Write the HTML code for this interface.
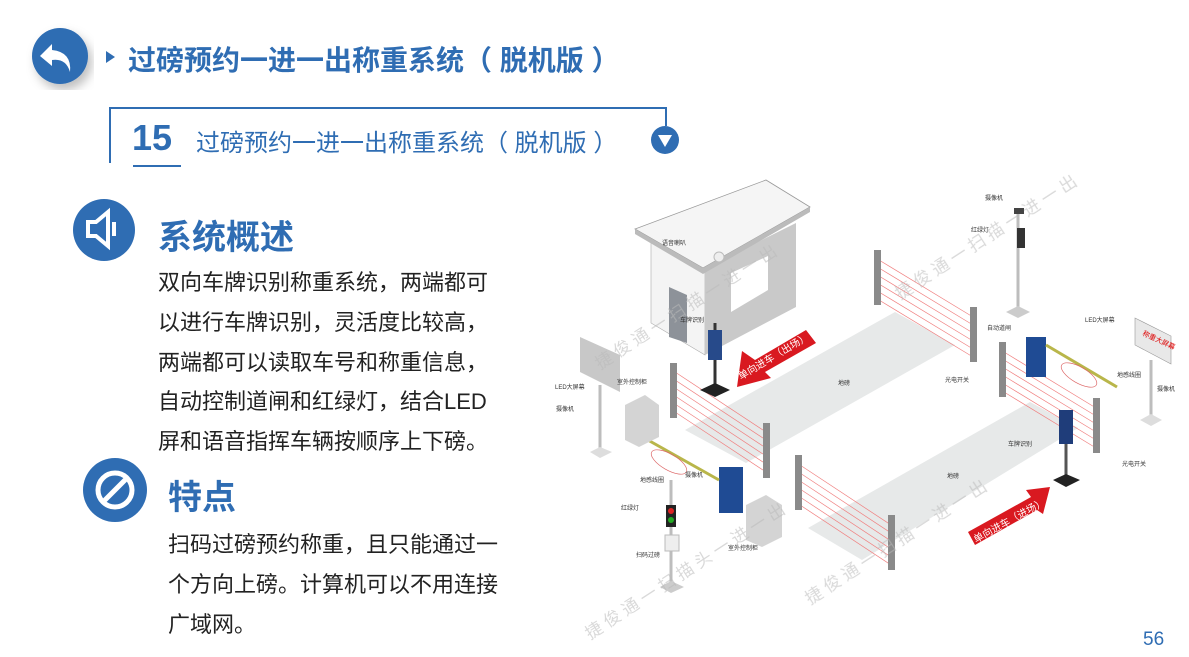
<!DOCTYPE html>
<html><head><meta charset="utf-8"><style>
body{margin:0;width:1189px;height:657px;background:#fff;position:relative;overflow:hidden;font-family:"Liberation Sans","Noto Sans CJK SC",sans-serif}
.a{position:absolute;white-space:nowrap}
.blue{color:#2f6db3}
.p{font-size:22px;line-height:39.8px;color:#222}
</style></head><body>
<svg class="a" style="left:0;top:0" width="1189" height="657">
<defs><filter id="sh"><feDropShadow dx="4" dy="6" stdDeviation="5" flood-color="#000" flood-opacity=".25"/></filter></defs>
<circle cx="60" cy="56" r="28" fill="#2f6db3" filter="url(#sh)"/>
<path d="M52 44 L40 56 L52 66 L52 60 Q66 58 70 72 Q72 52 52 50 Z" fill="#fff"/>
<path d="M106 51 L115 57 L106 63Z" fill="#2f6db3"/>
<path d="M110 163 V108 H666 V126" fill="none" stroke="#2f6db3" stroke-width="2"/>
<line x1="133" y1="166" x2="181" y2="166" stroke="#2f6db3" stroke-width="2"/>
<circle cx="665" cy="140" r="14" fill="#2f6db3"/>
<path d="M658 135 H672 L665 147Z" fill="#fff"/>
<circle cx="104" cy="230" r="31" fill="#2f6db3"/>
<path d="M88 222 H96 L108 212 V246 L96 236 H88Z" fill="none" stroke="#fff" stroke-width="4"/>
<rect x="112" y="222" width="4" height="14" fill="#fff"/>
<circle cx="115" cy="490" r="32" fill="#2f6db3"/>
<circle cx="115" cy="490" r="17" fill="none" stroke="#fff" stroke-width="5"/>
<line x1="104" y1="501" x2="126" y2="479" stroke="#fff" stroke-width="5"/>
<polygon points="685,430 895,312 955,345 746,463" fill="#e7e9e9"/>
<polygon points="808,528 1030,402 1078,428 862,560" fill="#e7e9e9"/>
<polygon points="651,238 705,268 705,355 651,323" fill="#f4f4f4" stroke="#aaa" stroke-width=".6"/>
<polygon points="705,268 796,223 796,307 705,355" fill="#c9c9c9"/>
<polygon points="635,229 766,180 810,207 703,268" fill="#f5f5f5" stroke="#999" stroke-width=".8"/>
<polygon points="635,229 703,268 810,207 810,212 703,274 635,234" fill="#bbb"/>
<polygon points="731,273 768,256 768,290 731,312" fill="#fff"/>
<polygon points="669,287 687,295 687,343 669,337" fill="#8d9299"/>
<circle cx="719" cy="257" r="5" fill="#eee" stroke="#bbb"/>
<g stroke="#f08080" stroke-width=".7">
<line x1="675" y1="372" x2="766" y2="432"/><line x1="675" y1="380" x2="766" y2="440"/><line x1="675" y1="388" x2="766" y2="448"/><line x1="675" y1="396" x2="766" y2="456"/><line x1="675" y1="404" x2="766" y2="464"/><line x1="675" y1="412" x2="766" y2="472"/>
<line x1="879" y1="260" x2="973" y2="317"/><line x1="879" y1="268" x2="973" y2="325"/><line x1="879" y1="276" x2="973" y2="333"/><line x1="879" y1="284" x2="973" y2="341"/><line x1="879" y1="292" x2="973" y2="349"/><line x1="879" y1="300" x2="973" y2="357"/>
<line x1="1004" y1="352" x2="1096" y2="408"/><line x1="1004" y1="360" x2="1096" y2="416"/><line x1="1004" y1="368" x2="1096" y2="424"/><line x1="1004" y1="376" x2="1096" y2="432"/><line x1="1004" y1="384" x2="1096" y2="440"/><line x1="1004" y1="392" x2="1096" y2="448"/>
<line x1="800" y1="465" x2="891" y2="525"/><line x1="800" y1="473" x2="891" y2="533"/><line x1="800" y1="481" x2="891" y2="541"/><line x1="800" y1="489" x2="891" y2="549"/><line x1="800" y1="497" x2="891" y2="557"/><line x1="800" y1="505" x2="891" y2="565"/>
</g>
<g fill="#8a8a8a">
<rect x="670" y="363" width="7" height="55"/><rect x="763" y="423" width="7" height="55"/>
<rect x="874" y="250" width="7" height="55"/><rect x="970" y="307" width="7" height="55"/>
<rect x="999" y="342" width="7" height="55"/><rect x="1093" y="398" width="7" height="55"/>
<rect x="795" y="455" width="7" height="55"/><rect x="888" y="515" width="7" height="55"/>
</g>
<g stroke="#bdbdbd" stroke-width="3">
<line x1="600" y1="385" x2="600" y2="452"/><line x1="1151" y1="360" x2="1151" y2="420"/>
<line x1="1018" y1="210" x2="1018" y2="312"/><line x1="671" y1="480" x2="671" y2="585"/>
</g>
<polygon points="590,452 600,447 612,452 600,458" fill="#ddd"/>
<polygon points="1140,420 1151,414 1162,420 1151,426" fill="#ddd"/>
<polygon points="1006,312 1018,306 1030,312 1018,318" fill="#ccc"/>
<polygon points="660,587 671,581 684,587 671,593" fill="#ccc"/>
<line x1="715" y1="323" x2="715" y2="388" stroke="#333" stroke-width="3"/>
<polygon points="700,390 715,383 730,390 715,397" fill="#222"/>
<line x1="1066" y1="410" x2="1066" y2="478" stroke="#555" stroke-width="3"/>
<polygon points="1053,480 1066,474 1080,480 1066,487" fill="#222"/>
<rect x="708" y="330" width="14" height="30" fill="#274a8a"/>
<rect x="1059" y="410" width="14" height="34" fill="#1f3d7a"/>
<rect x="1014" y="208" width="10" height="6" fill="#444"/>
<rect x="1017" y="228" width="8" height="20" fill="#333"/>
<polygon points="580,337 620,355 620,392 580,372" fill="#c8c8c8"/>
<polygon points="1135,318 1171,336 1171,364 1135,345" fill="#e8e8e8" stroke="#999" stroke-width=".6"/>
<text x="1142" y="335" font-size="7" fill="#d00" transform="rotate(25 1142 335)">称重大屏幕</text>
<rect x="1026" y="337" width="20" height="40" fill="#1f4b94"/>
<line x1="1046" y1="345" x2="1117" y2="387" stroke="#b9b64a" stroke-width="3"/>
<rect x="719" y="467" width="24" height="46" fill="#1f4b94"/>
<line x1="719" y1="480" x2="639" y2="435" stroke="#b9b64a" stroke-width="3"/>
<ellipse cx="1079" cy="375" rx="20" ry="8" fill="none" stroke="#d66" stroke-width=".7" transform="rotate(30 1079 375)"/>
<ellipse cx="669" cy="462" rx="20" ry="8" fill="none" stroke="#d66" stroke-width=".7" transform="rotate(30 669 462)"/>
<polygon points="625,405 645,395 659,405 659,437 639,447 625,440" fill="#d4d4d4"/>
<polygon points="746,505 766,495 782,505 782,537 762,547 746,540" fill="#d4d4d4"/>
<rect x="666" y="505" width="10" height="22" fill="#222"/><circle cx="671" cy="511" r="3" fill="#d22"/><circle cx="671" cy="520" r="3" fill="#2a2"/>
<rect x="665" y="535" width="14" height="16" fill="#eee" stroke="#bbb"/>
<polygon points="737,387 742,351 755,360 806,330 816,343 765,372 771,378" fill="#d91920"/>
<text x="741" y="380" font-size="10" fill="#fff" transform="rotate(-31 741 380)">单向进车（出场）</text>
<polygon points="1050,487 1026,490 1031,497 968,532 975,545 1037,510 1043,514" fill="#d91920"/>
<text x="976" y="543" font-size="10" fill="#fff" transform="rotate(-29 976 543)">单向进车（进场）</text>
<g font-size="6" fill="#333">
<text x="662" y="245">语音喇叭</text><text x="680" y="322">车牌识别</text>
<text x="555" y="389">LED大屏幕</text><text x="556" y="411">摄像机</text><text x="617" y="384">室外控制柜</text>
<text x="945" y="382">光电开关</text><text x="838" y="385">地磅</text><text x="947" y="478">地磅</text>
<text x="985" y="200">摄像机</text><text x="971" y="232">红绿灯</text><text x="987" y="330">自动道闸</text>
<text x="1085" y="322">LED大屏幕</text><text x="1117" y="377">地感线圈</text><text x="1157" y="391">摄像机</text>
<text x="1008" y="446">车牌识别</text><text x="1122" y="466">光电开关</text>
<text x="640" y="482">地感线圈</text><text x="685" y="477">摄像机</text><text x="621" y="510">红绿灯</text>
<text x="636" y="557">扫码过磅</text><text x="728" y="550">室外控制柜</text>
</g>
<g font-size="17" fill="#bbb" opacity=".55">
<text x="590" y="640" transform="rotate(-33 590 640)">捷 俊 通 一 扫 描 头 一 进 一 出</text>
<text x="600" y="370" transform="rotate(-33 600 370)">捷 俊 通 一 扫 描 一 进 一 出</text>
<text x="810" y="605" transform="rotate(-33 810 605)">捷 俊 通 一 扫 描 一 进 一 出</text>
<text x="900" y="300" transform="rotate(-33 900 300)">捷 俊 通 一 扫 描 一 进 一 出</text>
</g>
</svg>
<div class="a blue" style="left:128px;top:39px;font-size:28px;font-weight:bold">过磅预约一进一出称重系统（ 脱机版 ）</div>
<div class="a blue" style="left:132px;top:117px;font-size:36px;font-weight:bold">15</div>
<div class="a blue" style="left:196px;top:123px;font-size:24px">过磅预约一进一出称重系统（ 脱机版 ）</div>
<div class="a blue" style="left:158px;top:210px;font-size:34px;font-weight:bold">系统概述</div>
<div class="a p" style="left:158px;top:263px">双向车牌识别称重系统，两端都可<br>以进行车牌识别，灵活度比较高，<br>两端都可以读取车号和称重信息，<br>自动控制道闸和红绿灯，结合LED<br>屏和语音指挥车辆按顺序上下磅。</div>
<div class="a blue" style="left:168px;top:470px;font-size:34px;font-weight:bold">特点</div>
<div class="a p" style="left:168px;top:525px">扫码过磅预约称重，且只能通过一<br>个方向上磅。计算机可以不用连接<br>广域网。</div>
<div class="a blue" style="left:1143px;top:629px;font-size:19px">56</div>
</body></html>
